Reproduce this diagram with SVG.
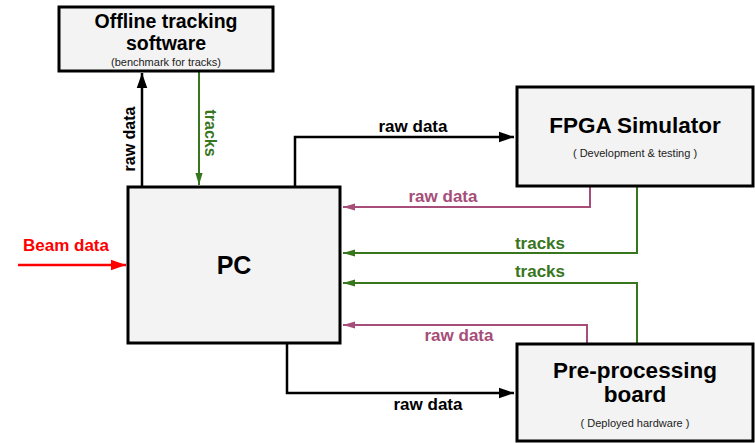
<svg xmlns="http://www.w3.org/2000/svg" width="755" height="443" viewBox="0 0 755 443">
  <style>
    .box { fill: #f3f3f3; stroke: #000; stroke-width: 3; }
    .t { font-family: "Liberation Sans", Arial, sans-serif; font-weight: bold; text-anchor: middle; }
    .lbl { font-size: 17px; }
    .sub { font-family: "Liberation Sans", Arial, sans-serif; text-anchor: middle; fill: #222; font-size: 11px; }
    .blk { fill: none; stroke: #000; stroke-width: 2.5; }
    .pink { fill: none; stroke: #a64d79; stroke-width: 2; }
    .grn { fill: none; stroke: #38761d; stroke-width: 2; }
    .red { fill: none; stroke: #ff0000; stroke-width: 2.5; }
  </style>
  <defs>
    <marker id="ahBlk" viewBox="0 0 10 10" refX="10" refY="5" markerWidth="6" markerHeight="6" markerUnits="strokeWidth" orient="auto">
      <path d="M0,1.5 L10,5 L0,8.5 Z" fill="#000"/>
    </marker>
    <marker id="ahPink" viewBox="0 0 10 10" refX="10" refY="5" markerWidth="6" markerHeight="6" markerUnits="strokeWidth" orient="auto">
      <path d="M0,2 L10,5 L0,8 Z" fill="#a64d79"/>
    </marker>
    <marker id="ahGrn" viewBox="0 0 10 10" refX="10" refY="5" markerWidth="6" markerHeight="6" markerUnits="strokeWidth" orient="auto">
      <path d="M0,2 L10,5 L0,8 Z" fill="#38761d"/>
    </marker>
    <marker id="ahRed" viewBox="0 0 10 10" refX="10" refY="5" markerWidth="6" markerHeight="6" markerUnits="strokeWidth" orient="auto">
      <path d="M0,1.5 L10,5 L0,8.5 Z" fill="#ff0000"/>
    </marker>
  </defs>

  <g id="connectors">
    <!-- PC <-> offline software -->
    <path class="blk" d="M142,186 V73" marker-end="url(#ahBlk)"/>
    <path class="grn" d="M199,72 V185" marker-end="url(#ahGrn)"/>
    <!-- PC <-> FPGA simulator -->
    <path class="blk" d="M295,187 V137 H514" marker-end="url(#ahBlk)"/>
    <path class="pink" d="M590,187 V207 H343" marker-end="url(#ahPink)"/>
    <path class="grn" d="M637,187 V253 H343" marker-end="url(#ahGrn)"/>
    <!-- PC <-> pre-processing board -->
    <path class="grn" d="M637,343 V283 H343" marker-end="url(#ahGrn)"/>
    <path class="pink" d="M587,343 V325 H343" marker-end="url(#ahPink)"/>
    <path class="blk" d="M287,344 V393 H514" marker-end="url(#ahBlk)"/>
    <!-- beam input -->
    <path class="red" d="M18,265 H126" marker-end="url(#ahRed)"/>

    <!-- labels -->
    <text class="t" font-size="16" transform="translate(135,139) rotate(-90)">raw data</text>
    <text class="t" font-size="16" fill="#38761d" transform="translate(205,133) rotate(90)">tracks</text>
    <text class="t lbl" x="413" y="132">raw data</text>
    <text class="t lbl" x="443" y="202" fill="#a64d79">raw data</text>
    <text class="t lbl" x="540" y="249" fill="#38761d">tracks</text>
    <text class="t lbl" x="540" y="277" fill="#38761d">tracks</text>
    <text class="t lbl" x="459" y="341" fill="#a64d79">raw data</text>
    <text class="t lbl" x="428" y="410">raw data</text>
    <text class="t lbl" x="66" y="251" fill="#ff0000">Beam data</text>
  </g>

  <g id="offline">
    <rect class="box" x="59" y="7" width="214" height="64"/>
    <text class="t" font-size="19.5" x="166" y="28">Offline tracking</text>
    <text class="t" font-size="19.5" x="166" y="50">software</text>
    <text class="sub" x="166" y="66">(benchmark for tracks)</text>
  </g>

  <g id="pc">
    <rect class="box" x="128" y="187" width="212" height="156"/>
    <text class="t" font-size="25" x="234" y="274">PC</text>
  </g>

  <g id="fpga">
    <rect class="box" x="517" y="87" width="236" height="99"/>
    <text class="t" font-size="22.5" x="635" y="133">FPGA Simulator</text>
    <text class="sub" x="635" y="157">( Development &amp; testing )</text>
  </g>

  <g id="preproc">
    <rect class="box" x="517" y="344" width="236" height="97"/>
    <text class="t" font-size="22.5" x="635" y="378">Pre-processing</text>
    <text class="t" font-size="22.5" x="635" y="402">board</text>
    <text class="sub" x="635" y="427">( Deployed hardware )</text>
  </g>
</svg>
